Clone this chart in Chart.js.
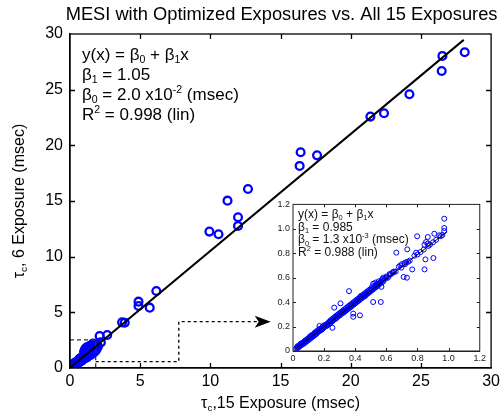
<!DOCTYPE html>
<html>
<head>
<meta charset="utf-8">
<script src="https://cdn.jsdelivr.net/npm/chart.js@4.4.1/dist/chart.umd.min.js"></script>
<style>
  html, body { margin: 0; padding: 0; background: #fff; }
  #wrap { position: relative; width: 504px; height: 416px; }
  #main { position: absolute; left: 0; top: 0; }
  #inset { position: absolute; left: 262px; top: 196px; }
</style>
</head>
<body>
<div id="wrap">
  <canvas id="main" width="504" height="416"></canvas>
  <canvas id="inset" width="226" height="172"></canvas>
</div>
<script>
// ---------------- DATA ----------------
const titleText = "MESI with Optimized Exposures vs. All 15 Exposures";
const mainTicks = [0, 5, 10, 15, 20, 25, 30];
const insetTicks = [0, 0.2, 0.4, 0.6, 0.8, 1, 1.2];

// main fit: y = b0 + b1 x
const mainFit = { b0: 0.02, b1: 1.05, xStart: 0, xEnd: 28.05 };
const insetFit = { b0: 0.0013, b1: 0.985, xStart: 0.02, xEnd: 0.99 };

// points of the zoomed (inset) view, [x, y] in msec
const insetPoints = [
  [0.02,0.02],[0.025,0.03],[0.03,0.025],[0.03,0.04],[0.035,0.03],[0.04,0.045],[0.04,0.035],[0.045,0.05],
  [0.05,0.045],[0.05,0.06],[0.055,0.05],[0.06,0.065],[0.06,0.055],[0.065,0.07],[0.07,0.06],[0.07,0.075],
  [0.075,0.08],[0.08,0.07],[0.08,0.085],[0.085,0.09],[0.09,0.08],[0.09,0.095],[0.095,0.1],[0.1,0.09],
  [0.1,0.105],[0.105,0.11],[0.11,0.1],[0.11,0.12],[0.115,0.115],[0.12,0.11],[0.12,0.13],[0.125,0.12],
  [0.13,0.135],[0.13,0.12],[0.135,0.14],[0.14,0.13],[0.14,0.15],[0.145,0.14],[0.15,0.16],[0.15,0.14],
  [0.155,0.15],[0.16,0.155],[0.16,0.17],[0.165,0.16],[0.17,0.165],[0.17,0.18],[0.175,0.17],[0.18,0.185],
  [0.18,0.17],[0.185,0.18],[0.19,0.2],[0.19,0.18],[0.195,0.19],[0.2,0.195],[0.2,0.21],[0.17,0.205],
  [0.205,0.2],[0.21,0.215],[0.215,0.205],[0.22,0.22],[0.22,0.21],[0.225,0.23],[0.23,0.22],[0.235,0.24],
  [0.24,0.23],[0.24,0.25],[0.245,0.24],[0.25,0.26],[0.25,0.24],[0.253,0.19],[0.255,0.25],[0.26,0.27],
  [0.26,0.255],[0.265,0.355],[0.27,0.28],[0.27,0.26],[0.275,0.27],[0.28,0.29],[0.28,0.27],[0.285,0.28],
  [0.29,0.3],[0.29,0.285],[0.295,0.29],[0.3,0.31],[0.3,0.29],[0.305,0.39],[0.305,0.3],[0.31,0.32],
  [0.31,0.305],[0.315,0.31],[0.32,0.33],[0.32,0.31],[0.325,0.32],[0.33,0.34],[0.33,0.32],[0.335,0.33],
  [0.34,0.35],[0.34,0.33],[0.345,0.34],[0.35,0.36],[0.35,0.34],[0.355,0.35],[0.36,0.37],[0.36,0.49],
  [0.36,0.35],[0.365,0.36],[0.37,0.38],[0.37,0.36],[0.375,0.37],[0.38,0.39],[0.38,0.37],[0.385,0.38],
  [0.387,0.28],[0.387,0.306],[0.39,0.4],[0.39,0.38],[0.395,0.39],[0.4,0.41],[0.4,0.39],[0.405,0.4],
  [0.41,0.42],[0.41,0.4],[0.415,0.41],[0.42,0.43],[0.42,0.41],[0.425,0.42],[0.43,0.44],[0.43,0.292],
  [0.43,0.42],[0.435,0.43],[0.436,0.45],[0.44,0.45],[0.44,0.43],[0.445,0.44],[0.45,0.46],[0.45,0.44],
  [0.455,0.45],[0.46,0.47],[0.462,0.448],[0.465,0.46],[0.47,0.48],[0.47,0.46],[0.475,0.47],[0.48,0.49],
  [0.48,0.47],[0.485,0.48],[0.49,0.5],[0.49,0.48],[0.495,0.49],[0.5,0.51],[0.5,0.49],[0.505,0.5],
  [0.51,0.53],[0.51,0.5],[0.515,0.401],[0.515,0.55],[0.52,0.52],[0.52,0.51],[0.525,0.53],[0.53,0.56],
  [0.53,0.52],[0.535,0.54],[0.54,0.55],[0.54,0.53],[0.545,0.54],[0.55,0.57],[0.55,0.54],[0.555,0.55],
  [0.56,0.56],[0.564,0.401],[0.565,0.57],[0.568,0.525],[0.57,0.58],[0.57,0.56],[0.575,0.59],[0.58,0.6],
  [0.58,0.57],[0.59,0.59],[0.6,0.6],[0.6,0.61],[0.61,0.6],[0.62,0.62],[0.621,0.63],[0.63,0.63],
  [0.64,0.64],[0.643,0.647],[0.65,0.65],[0.66,0.65],[0.664,0.805],[0.68,0.69],[0.69,0.7],[0.696,0.682],
  [0.7,0.71],[0.711,0.606],[0.717,0.72],[0.72,0.71],[0.728,0.728],[0.732,0.6],[0.734,0.832],[0.74,0.73],
  [0.75,0.74],[0.766,0.668],[0.78,0.78],[0.791,0.805],[0.798,0.939],[0.8,0.79],[0.82,0.81],[0.84,0.83],
  [0.845,0.87],[0.845,0.668],[0.851,0.75],[0.855,0.892],[0.866,0.879],[0.866,0.933],[0.87,0.86],[0.88,0.87],
  [0.9,0.89],[0.902,0.761],[0.908,0.96],[0.92,0.91],[0.94,0.947],[0.95,0.94],[0.972,1.083],[0.972,1.007],
  [0.972,0.982],[0.96,0.95]
];

// additional low-range points only visible in the main view
const mainClusterPoints = [
  [1.0,1.45],[1.05,1.6],[1.1,1.75],[1.2,1.85],[1.3,1.9],[1.4,1.95],[1.5,2.05],[1.15,1.4],[1.25,1.55],
  [1.0,1.1],[1.1,1.15],[1.2,1.25],[1.3,1.35],[1.4,1.45],[1.5,1.55],[1.6,1.7],[1.7,1.8],[1.8,1.95],
  [1.9,2.1],[1.05,0.85],[1.2,0.95],[1.35,1.1],[1.5,1.2],[1.65,1.35],[1.8,1.5],[1.9,1.7],[2.0,1.95],[2.2,2.3]
];

// higher-value points of the main view
const mainOutliers = [
  [6.15,6.92],[4.88,5.96],[4.88,5.57],[5.68,5.42],[3.71,4.1],[3.9,4.07],[2.11,2.87],[2.65,2.96],[1.64,2.2],
  [9.93,12.25],[10.58,12.01],[11.97,12.76],[11.97,13.54],[11.22,15.03],[12.68,16.08],[16.36,18.15],
  [16.43,19.38],[17.6,19.1],[21.4,22.58],[22.37,22.88],[24.18,24.59],[26.48,26.68],[26.53,28.03],[28.12,28.36]
];

// annotation text: [text, mode] with mode n / sub / sup
const mainLabels = [
  [["y(x) = β","n"],["0","sub"],[" + β","n"],["1","sub"],["x","n"]],
  [["β","n"],["1","sub"],[" = 1.05","n"]],
  [["β","n"],["0","sub"],[" = 2.0 x10","n"],["-2","sup"],[" (msec)","n"]],
  [["R","n"],["2","sup"],[" = 0.998 (lin)","n"]]
];
const insetLabels = [
  [["y(x) = β","n"],["0","sub"],[" + β","n"],["1","sub"],["x","n"]],
  [["β","n"],["1","sub"],[" = 0.985","n"]],
  [["β","n"],["0","sub"],[" = 1.3 x10","n"],["-3","sup"],[" (msec)","n"]],
  [["R","n"],["2","sup"],[" = 0.988 (lin)","n"]]
];
const xTitle = [["τ","n"],["c","sub"],[",15 Exposure (msec)","n"]];
const yTitle = [["τ","n"],["c","sub"],[", 6 Exposure (msec)","n"]];

// zoom-region marker (data units of main axes)
const zoomBox = { x: 1.83, y: 2.52 };
const zoomArrow = [[1.83,0.57],[7.75,0.57],[7.75,4.16],[14.3,4.16]];

// ---------------- DRAWING ----------------
const FONT = "'Liberation Sans', Arial, Helvetica, sans-serif";
const BLUE = "#0000ff";

function toXY(arr) { return arr.map(p => ({ x: p[0], y: p[1] })); }

function richWidth(ctx, parts, size) {
  let w = 0;
  for (const [t, m] of parts) {
    const s = m === 'n' ? size : size * 0.62;
    ctx.font = s + "px " + FONT;
    w += ctx.measureText(t).width;
  }
  return w;
}
function drawRich(ctx, parts, x, yBase, size) {
  let cx = x;
  ctx.textBaseline = 'alphabetic';
  ctx.textAlign = 'left';
  for (const [t, m] of parts) {
    const s = m === 'n' ? size : size * 0.62;
    ctx.font = s + "px " + FONT;
    const dy = m === 'sub' ? size * 0.2 : (m === 'sup' ? -size * 0.4 : 0);
    ctx.fillText(t, cx, yBase + dy);
    cx += ctx.measureText(t).width;
  }
}

function inwardTicks(chart, ticks, len, width, color) {
  const { ctx, chartArea: a, scales: { x, y } } = chart;
  ctx.save();
  ctx.strokeStyle = color;
  ctx.lineWidth = width;
  ctx.beginPath();
  for (const v of ticks) {
    const px = Math.round(x.getPixelForValue(v)) + 0.5;
    if (px > a.left + 1 && px < a.right - 1) {
      ctx.moveTo(px, a.bottom); ctx.lineTo(px, a.bottom - len);
      ctx.moveTo(px, a.top); ctx.lineTo(px, a.top + len);
    }
    const py = Math.round(y.getPixelForValue(v)) + 0.5;
    if (py > a.top + 1 && py < a.bottom - 1) {
      ctx.moveTo(a.left, py); ctx.lineTo(a.left + len, py);
      ctx.moveTo(a.right, py); ctx.lineTo(a.right - len, py);
    }
  }
  ctx.stroke();
  ctx.strokeRect(a.left, a.top, a.right - a.left, a.bottom - a.top);
  ctx.restore();
}

const mainPlugin = {
  id: 'mainDecor',
  afterDatasetsDraw(chart) {
    const { ctx, scales: { x, y } } = chart;
    ctx.save();
    // dashed zoom box
    ctx.strokeStyle = '#333';
    ctx.lineWidth = 1.3;
    ctx.setLineDash([4, 3]);
    ctx.beginPath();
    ctx.moveTo(x.getPixelForValue(0), y.getPixelForValue(zoomBox.y));
    ctx.lineTo(x.getPixelForValue(zoomBox.x), y.getPixelForValue(zoomBox.y));
    ctx.lineTo(x.getPixelForValue(zoomBox.x), y.getPixelForValue(0));
    ctx.stroke();
    // dotted arrow path
    ctx.strokeStyle = '#000';
    ctx.setLineDash([3, 3]);
    ctx.beginPath();
    zoomArrow.forEach((p, i) => {
      const px = x.getPixelForValue(p[0]), py = y.getPixelForValue(p[1]);
      if (i === 0) ctx.moveTo(px, py); else if (i === zoomArrow.length - 1) ctx.lineTo(px - 14, py); else ctx.lineTo(px, py);
    });
    ctx.stroke();
    ctx.setLineDash([]);
    const tip = zoomArrow[zoomArrow.length - 1];
    const tx = x.getPixelForValue(tip[0]), ty = y.getPixelForValue(tip[1]);
    ctx.fillStyle = '#000';
    ctx.beginPath();
    ctx.moveTo(tx, ty);
    ctx.lineTo(tx - 16, ty - 6);
    ctx.lineTo(tx - 12, ty);
    ctx.lineTo(tx - 16, ty + 6);
    ctx.closePath();
    ctx.fill();
    ctx.restore();
  },
  afterDraw(chart) {
    const { ctx, chartArea: a } = chart;
    inwardTicks(chart, mainTicks, 5, 1.3, '#000');
    ctx.save();
    ctx.fillStyle = '#000';
    // title
    const cx = (a.left + a.right) / 2;
    ctx.font = "18.3px " + FONT;
    ctx.textAlign = 'center';
    ctx.textBaseline = 'alphabetic';
    ctx.fillText(titleText, cx + 1, 20);
    // annotation
    mainLabels.forEach((parts, i) => drawRich(ctx, parts, 82, 59.5 + i * 20, 17));
    // x title
    const wx = richWidth(ctx, xTitle, 16);
    drawRich(ctx, xTitle, cx - wx / 2, 408, 16);
    // y title
    const wy = richWidth(ctx, yTitle, 16);
    ctx.translate(24, (a.top + a.bottom) / 2);
    ctx.rotate(-Math.PI / 2);
    drawRich(ctx, yTitle, -wy / 2, 0, 16);
    ctx.restore();
  }
};

const insetPlugin = {
  id: 'insetDecor',
  beforeDatasetsDraw(chart) {
    const { ctx, chartArea: a } = chart;
    ctx.save();
    ctx.fillStyle = '#fff';
    ctx.fillRect(a.left, a.top, a.right - a.left, a.bottom - a.top);
    ctx.restore();
  },
  afterDraw(chart) {
    const { ctx, chartArea: a } = chart;
    inwardTicks(chart, insetTicks, 3, 1, '#222');
    ctx.save();
    ctx.fillStyle = '#111';
    insetLabels.forEach((parts, i) => drawRich(ctx, parts, a.left + 5, a.top + 13.5 + i * 12.6, 12));
    ctx.restore();
  }
};

function scaleOpts(min, max, step, fontSize, pad, fit, isX, color, bw) {
  return {
    type: 'linear', min: min, max: max,
    afterFit: fit,
    ticks: { stepSize: step, color: color, padding: pad, maxRotation: 0, autoSkip: false,
             font: { family: FONT, size: fontSize } },
    grid: { display: false, drawTicks: false },
    border: { display: true, color: color, width: bw }
  };
}

new Chart(document.getElementById('main'), {
  type: 'scatter',
  data: {
    datasets: [
      { type: 'line', data: [
          { x: mainFit.xStart, y: mainFit.b0 + mainFit.b1 * mainFit.xStart },
          { x: mainFit.xEnd, y: mainFit.b0 + mainFit.b1 * mainFit.xEnd }],
        borderColor: '#000', borderWidth: 2, pointRadius: 0, fill: false },
      { data: toXY(insetPoints.concat(mainClusterPoints, mainOutliers)),
        borderColor: BLUE, backgroundColor: 'rgba(0,0,0,0)', pointRadius: 3.9, borderWidth: 2.3 }
    ]
  },
  options: {
    responsive: false, animation: false, devicePixelRatio: 1,
    layout: { padding: { top: 34, right: 8, left: 0, bottom: 0 } },
    plugins: { legend: { display: false }, tooltip: { enabled: false }, title: { display: false } },
    scales: {
      x: scaleOpts(0, 30, 5, 16, 4, s => { s.height = 48; }, true, '#000', 1.3),
      y: scaleOpts(0, 30, 5, 16, 7, s => { s.width = 70; }, false, '#000', 1.3)
    }
  },
  plugins: [mainPlugin]
});

new Chart(document.getElementById('inset'), {
  type: 'scatter',
  data: {
    datasets: [
      { type: 'line', data: [
          { x: insetFit.xStart, y: insetFit.b0 + insetFit.b1 * insetFit.xStart },
          { x: insetFit.xEnd, y: insetFit.b0 + insetFit.b1 * insetFit.xEnd }],
        borderColor: '#000', borderWidth: 1, pointRadius: 0, fill: false },
      { data: toXY(insetPoints), borderColor: BLUE, backgroundColor: 'rgba(0,0,0,0)',
        pointRadius: 2.5, borderWidth: 1 }
    ]
  },
  options: {
    responsive: false, animation: false, devicePixelRatio: 1,
    layout: { padding: { top: 8, right: 7, left: 0, bottom: 0 } },
    plugins: { legend: { display: false }, tooltip: { enabled: false }, title: { display: false } },
    scales: {
      x: scaleOpts(0, 1.2, 0.2, 9, 2, s => { s.height = 17; }, true, '#222', 1),
      y: scaleOpts(0, 1.2, 0.2, 9, 3, s => { s.width = 31; }, false, '#222', 1)
    }
  },
  plugins: [insetPlugin]
});
</script>
</body>
</html>
